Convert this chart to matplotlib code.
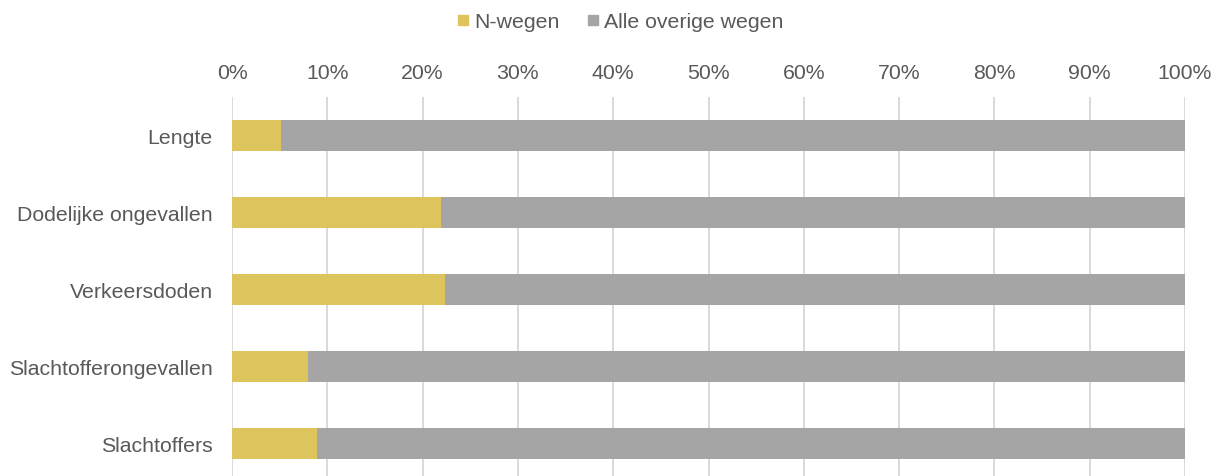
import matplotlib
matplotlib.use("Agg")
import matplotlib.pyplot as plt
from matplotlib.lines import Line2D
from matplotlib.ticker import FuncFormatter

categories = ["Lengte", "Dodelijke ongevallen", "Verkeersdoden",
              "Slachtofferongevallen", "Slachtoffers"]
n_wegen = [5.1, 21.9, 22.4, 8.0, 8.9]
overige = [100 - v for v in n_wegen]
series_names = ["N-wegen", "Alle overige wegen"]
colors = ["#DDC45D", "#A5A5A5"]
text_color = "#595959"

plt.rcParams['font.family'] = ['Liberation Sans', 'DejaVu Sans']

fig = plt.figure(figsize=(12.2, 4.77), dpi=100)
ax = fig.add_axes([232/1220, 1 - 483/477, (1185-232)/1220, 385/477])

y = list(range(len(categories)))
ax.barh(y, n_wegen, height=0.39, color=colors[0], zorder=3)
ax.barh(y, overige, left=n_wegen, height=0.39, color=colors[1], zorder=3)

ax.set_xlim(0, 100)
ax.set_ylim(len(categories) - 0.5, -0.5)
ax.set_yticks(y)
ax.set_yticklabels(categories)
ax.set_xticks(range(0, 101, 10))
ax.xaxis.set_major_formatter(FuncFormatter(lambda v, p: f"{int(v)}%"))
ax.xaxis.tick_top()
ax.tick_params(axis='x', length=0, pad=11, labelsize=15.3, labelcolor=text_color)
ax.tick_params(axis='y', length=0, pad=14, labelsize=15.3, labelcolor=text_color)
ax.grid(axis='x', color="#D9D9D9", linewidth=1.4, zorder=0)
for s in ax.spines.values():
    s.set_visible(False)

handles = [Line2D([], [], marker='s', linestyle='none', markersize=7.5,
                  markerfacecolor=c, markeredgecolor=c) for c in colors]
leg = fig.legend(handles, series_names, loc='center', bbox_to_anchor=(0.5086, 0.952),
                 ncol=2, frameon=False, fontsize=15.3, handlelength=0.5,
                 handletextpad=0.3, columnspacing=1.3, labelcolor=text_color)

fig.savefig("out.png", dpi=100)
